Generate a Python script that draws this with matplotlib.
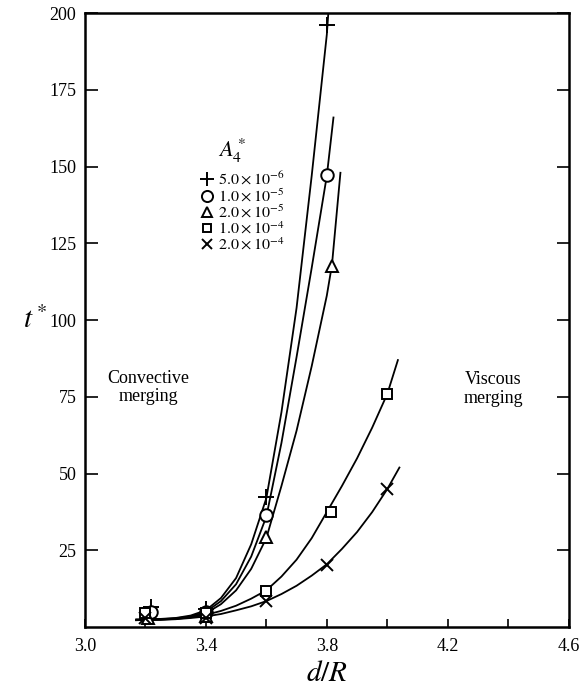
import matplotlib
matplotlib.use("Agg")
import matplotlib.pyplot as plt
from matplotlib.lines import Line2D

plt.rcParams['font.family'] = ['Liberation Serif', 'DejaVu Serif']
plt.rcParams['mathtext.fontset'] = 'stix'

# ---- data ----
legend_title = r"$A_4^*$"
labels = [r"$5.0\times10^{-6}$", r"$1.0\times10^{-5}$", r"$2.0\times10^{-5}$",
          r"$1.0\times10^{-4}$", r"$2.0\times10^{-4}$"]
markers = ['+', 'o', '^', 's', 'x']

# measured points (d/R, t*)
pts_x = [
    [3.22, 3.40, 3.60, 3.80],
    [3.22, 3.40, 3.60, 3.80],
    [3.21, 3.40, 3.60, 3.817],
    [3.20, 3.40, 3.60, 3.813, 4.00],
    [3.20, 3.40, 3.60, 3.80, 4.00],
]
pts_y = [
    [6.5, 6.0, 42.3, 196.0],
    [5.0, 5.0, 36.4, 147.3],
    [3.0, 3.5, 29.3, 117.7],
    [4.5, 4.5, 11.7, 37.4, 76.1],
    [3.0, 3.0, 8.5, 20.2, 44.9],
]

# fitted curves
crv_x = [
    [3.17, 3.25, 3.30, 3.35, 3.40, 3.45, 3.50, 3.55, 3.60, 3.65, 3.70, 3.75, 3.80, 3.805],
    [3.17, 3.25, 3.30, 3.35, 3.40, 3.45, 3.50, 3.55, 3.60, 3.65, 3.70, 3.75, 3.80, 3.822],
    [3.17, 3.25, 3.30, 3.35, 3.40, 3.45, 3.50, 3.55, 3.60, 3.65, 3.70, 3.75, 3.80, 3.817, 3.845],
    [3.17, 3.25, 3.30, 3.35, 3.40, 3.45, 3.50, 3.55, 3.60, 3.65, 3.70, 3.75, 3.80, 3.85, 3.90, 3.95, 4.00, 4.035],
    [3.17, 3.25, 3.30, 3.35, 3.40, 3.45, 3.50, 3.55, 3.60, 3.65, 3.70, 3.75, 3.80, 3.85, 3.90, 3.95, 4.00, 4.04],
]
crv_y = [
    [2.5, 2.7, 3.0, 3.8, 5.5, 9.5, 16.0, 27.0, 42.0, 70.0, 104.0, 147.0, 193.0, 200.0],
    [2.5, 2.6, 2.9, 3.5, 5.0, 8.5, 14.0, 23.0, 36.0, 60.0, 88.0, 117.0, 147.0, 166.0],
    [2.3, 2.5, 2.8, 3.3, 4.5, 7.5, 12.0, 19.0, 29.0, 46.0, 64.0, 85.0, 108.0, 118.0, 148.0],
    [2.3, 2.5, 2.7, 3.2, 4.0, 5.3, 7.0, 9.3, 12.0, 16.5, 22.0, 29.0, 37.5, 46.0, 55.0, 65.0, 76.0, 87.0],
    [2.3, 2.4, 2.6, 3.0, 3.5, 4.3, 5.5, 6.8, 8.5, 10.8, 13.5, 16.8, 20.5, 25.5, 31.0, 37.5, 45.0, 52.0],
]

xticks_major = [3.0, 3.4, 3.8, 4.2, 4.6]
xticks_minor = [3.2, 3.6, 4.0, 4.4]
yticks = [25, 50, 75, 100, 125, 150, 175, 200]

fig = plt.figure(figsize=(5.81, 6.90), dpi=100)
ax = fig.add_axes([0.146, 0.091, 0.833, 0.890])

handles = []
for i in range(5):
    ax.plot(crv_x[i], crv_y[i], color='black', lw=1.3, zorder=2)
    mfc = 'white' if markers[i] in ('o', '^', 's') else 'black'
    ms = {'+': 11, 'o': 9, '^': 8, 's': 7, 'x': 8}[markers[i]]
    ax.plot(pts_x[i], pts_y[i], linestyle='none', marker=markers[i], ms=ms,
            mfc=mfc, mec='black', mew=1.4, zorder=3)
    handles.append(Line2D([], [], linestyle='none', marker=markers[i], ms=ms - 1,
                          mfc=mfc, mec='black', mew=1.4))

leg = ax.legend(handles, labels, loc='upper left',
                bbox_to_anchor=(0.215, 0.76), frameon=False, fontsize=11.6,
                handlelength=0.8, handletextpad=0.3,
                labelspacing=-0.04, borderpad=0.2)
ax.text(3.44, 155, legend_title, ha='left', va='center', fontsize=16)

ax.text(3.21, 78, "Convective\nmerging", ha='center', va='center', fontsize=13, linespacing=1.12)
ax.text(4.35, 77.5, "Viscous\nmerging", ha='center', va='center', fontsize=13, linespacing=1.12)

ax.set_xlim(3.0, 4.6)
ax.set_ylim(0, 200)
ax.set_xticks(xticks_major)
ax.set_xticks(xticks_minor, minor=True)
ax.set_yticks(yticks)
ax.set_xticklabels([f"{v:.1f}" for v in xticks_major])
ax.set_yticklabels([str(v) for v in yticks])
ax.tick_params(axis='both', which='both', direction='in', labelsize=13, width=1.2)
ax.tick_params(axis='y', length=9, right=True, pad=6)
ax.tick_params(axis='x', which='both', length=6, pad=8)
for s in ax.spines.values():
    s.set_linewidth(1.8)

ax.set_xlabel(r"$d/R$", fontsize=21, labelpad=4)
ax.set_ylabel(r"$t^*$", fontsize=21, rotation=0, labelpad=10, va='center')

fig.savefig("out.png", dpi=100)
